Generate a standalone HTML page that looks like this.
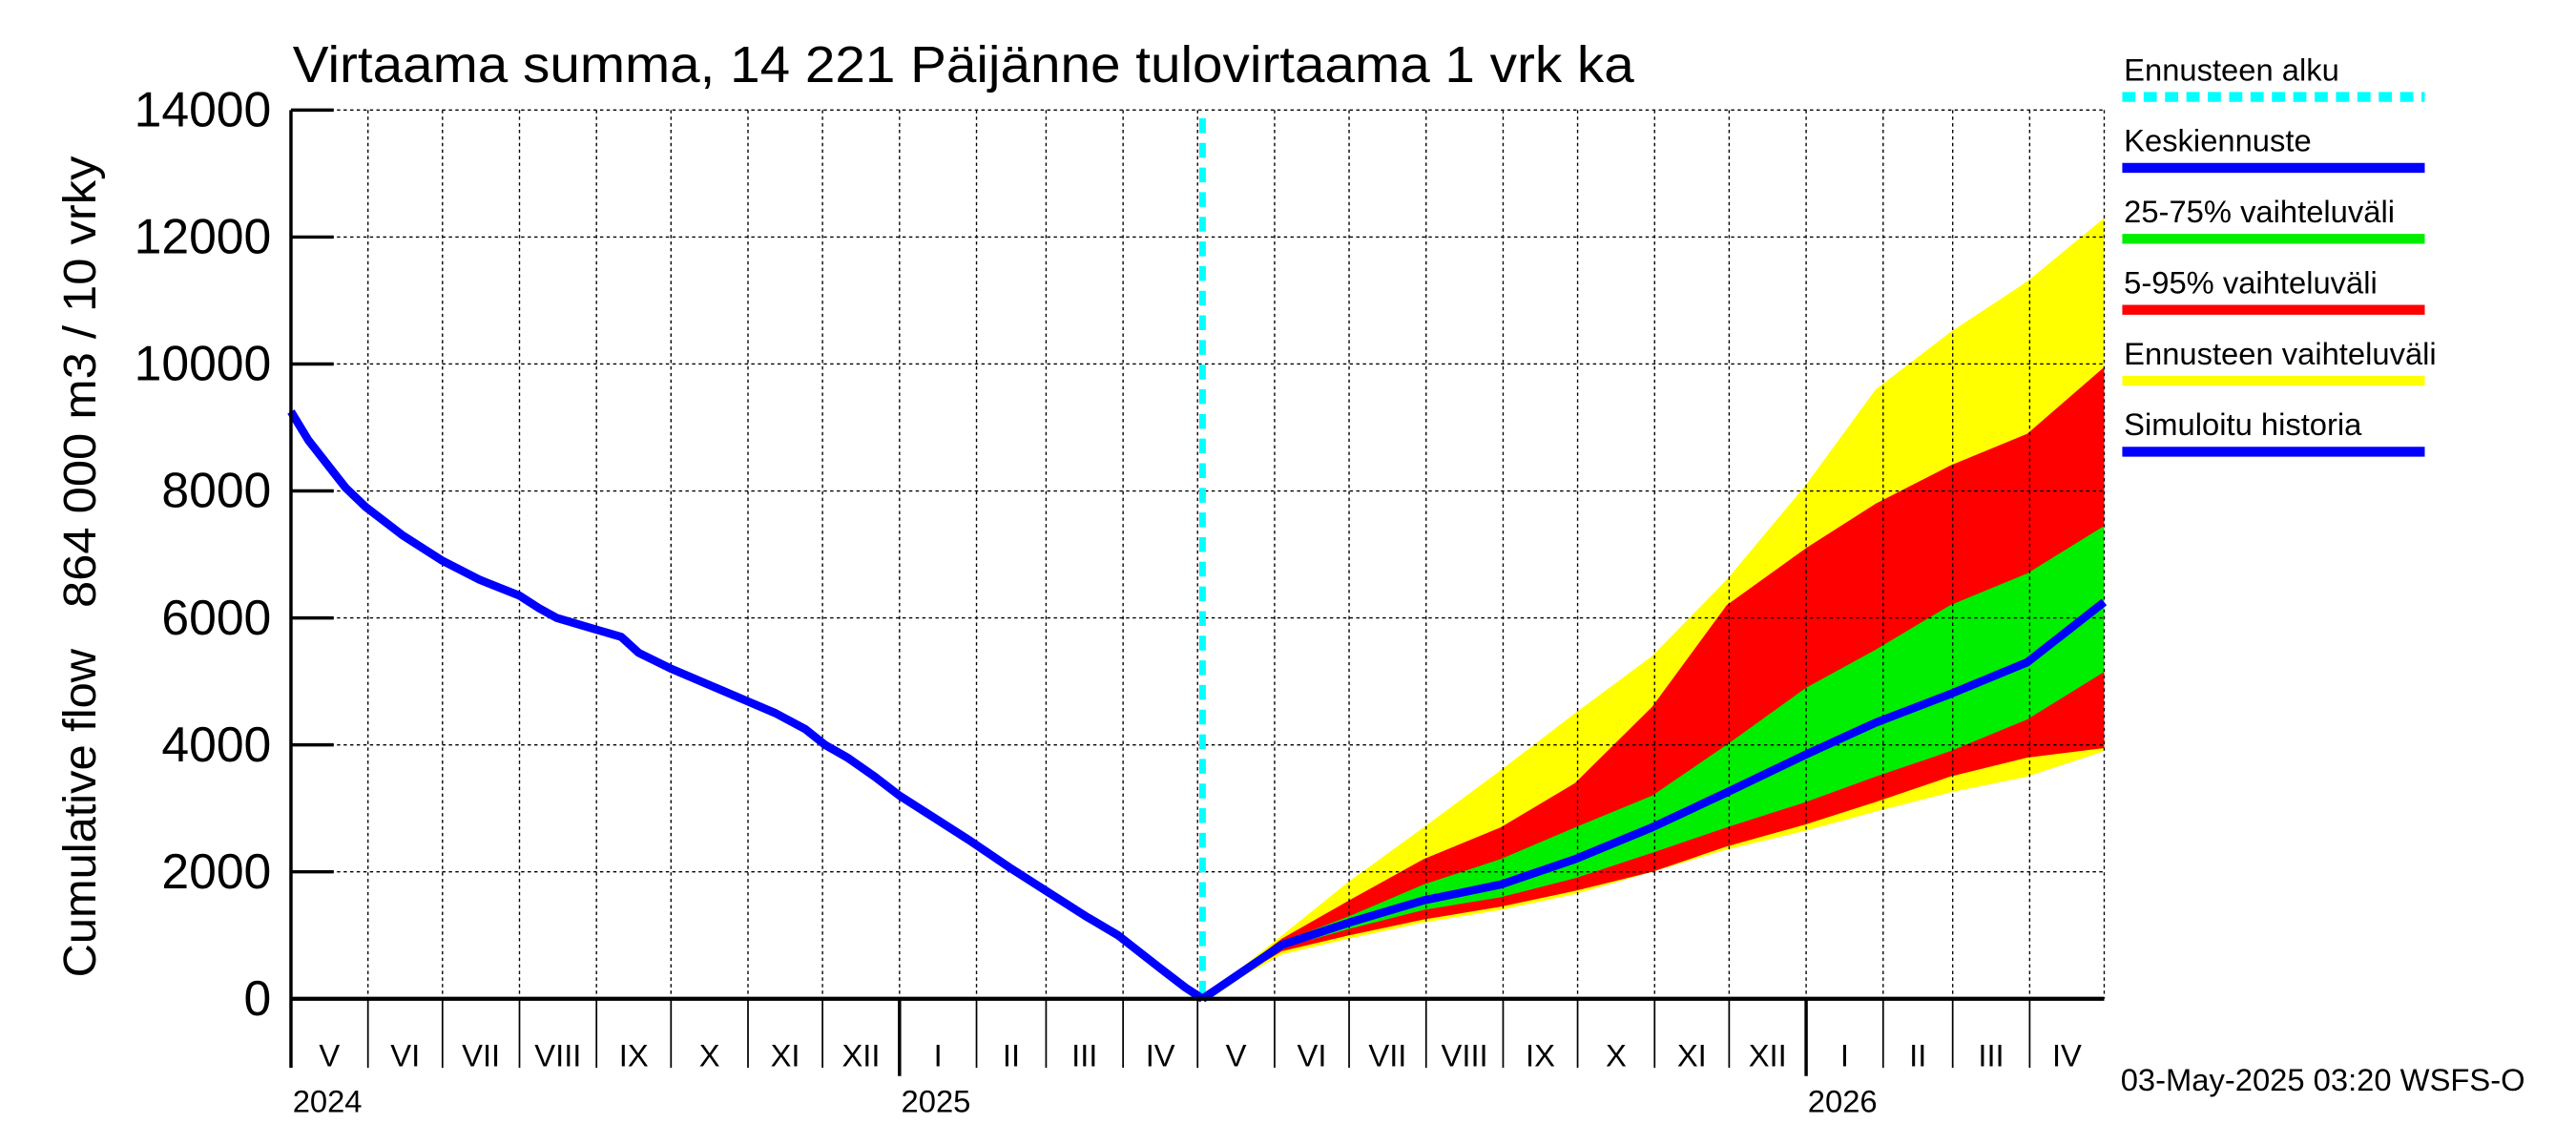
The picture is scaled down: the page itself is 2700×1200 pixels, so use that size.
<!DOCTYPE html>
<html><head><meta charset="utf-8"><style>
html,body{margin:0;padding:0;background:#fff}
svg{display:block}
text{font-family:"Liberation Sans",sans-serif;fill:#000}
</style></head><body>
<svg id="chart" width="2700" height="1200" viewBox="0 0 1567 697" preserveAspectRatio="none" xmlns="http://www.w3.org/2000/svg">
<rect width="1567" height="697" fill="#fff"/>
<g id="bands"></g>
<g id="grid"></g>
<g id="lines"></g>
<g id="axes"></g>
<text x="178" y="50" font-size="31" textLength="816" lengthAdjust="spacingAndGlyphs">Virtaama summa, 14 221 Päijänne tulovirtaama 1 vrk ka</text>
<text transform="translate(58,595) rotate(-90)" font-size="28" textLength="200" lengthAdjust="spacingAndGlyphs">Cumulative flow</text>
<text transform="translate(58,370) rotate(-90)" font-size="28" textLength="275" lengthAdjust="spacingAndGlyphs">864 000 m3 / 10 vrky</text>
<text x="1290" y="664" font-size="19">03-May-2025 03:20 WSFS-O</text>
<g id="legend"></g>
</svg>
<script>
const yTicks=[0,2000,4000,6000,8000,10000,12000,14000];
const histDays=[0,7,15,22,30,45,61,76,92,100,107,120,133,140,153,168,183,195,207,215,224,235,245,259,273,290,306,320,333,350,360,367];
const histVals=[9250,8800,8400,8050,7750,7300,6900,6600,6350,6150,6000,5850,5700,5450,5200,4950,4700,4500,4250,4000,3800,3500,3200,2850,2500,2050,1650,1300,1000,480,180,0];
const fcDays=[367,399,426,456,487,517,548,578,610,638,668,699,730];
const yellowTop=[0,1000,1850,2700,3600,4500,5400,6600,8100,9600,10500,11300,12300];
const redTop=[0,950,1550,2200,2700,3400,4600,6200,7100,7800,8400,8900,9950];
const greenTop=[0,900,1300,1800,2200,2700,3200,4000,4900,5500,6200,6700,7450];
const median=[0,850,1200,1550,1800,2200,2700,3250,3850,4350,4800,5300,6250];
const greenBot=[0,800,1100,1400,1600,1900,2300,2700,3100,3500,3900,4400,5150];
const redBot=[0,750,1000,1250,1450,1700,2000,2400,2750,3100,3500,3800,3950];
const yellowBot=[0,700,950,1200,1400,1650,2000,2350,2650,2950,3250,3500,3900];
const months=["V","VI","VII","VIII","IX","X","XI","XII","I","II","III","IV","V","VI","VII","VIII","IX","X","XI","XII","I","II","III","IV"];
const monthLens=[31,30,31,31,30,31,30,31,31,28,31,30,31,30,31,31,30,31,30,31,31,28,31,30];
const years=["2024","2025","2026"];
const yearDays=[0,245,610];
const forecastDay=367;

const NS="http://www.w3.org/2000/svg";
const X0=177,X1=1280,Y0=608,Y1=67;
const xs=d=>X0+(X1-X0)*d/730;
const ys=v=>Y0-(Y0-Y1)*v/14000;
function mk(tag,attrs,parent){const e=document.createElementNS(NS,tag);for(const k in attrs)e.setAttribute(k,attrs[k]);parent.appendChild(e);return e;}
const bands=document.getElementById('bands'),grid=document.getElementById('grid'),lines=document.getElementById('lines'),axes=document.getElementById('axes'),legend=document.getElementById('legend');
function band(top,bot,color,name){
  let p=fcDays.map((d,i)=>xs(d)+','+ys(top[i]));
  for(let i=fcDays.length-1;i>=0;i--)p.push(xs(fcDays[i])+','+ys(bot[i]));
  const e=mk('polygon',{points:p.join(' '),fill:color},bands);
  
  
}
band(yellowTop,yellowBot,'#ffff00','band-forecast-range');
band(redTop,redBot,'#ff0000','band-5-95');
band(greenTop,greenBot,'#00ee00','band-25-75');
let d=0;
const mStarts=[];
for(let i=0;i<months.length;i++){mStarts.push(d);d+=monthLens[i];}
mStarts.push(730);
for(let i=1;i<mStarts.length;i++){
  const g=mk('line',{x1:xs(mStarts[i]),x2:xs(mStarts[i]),y1:Y1,y2:Y0,stroke:'#000','stroke-width':0.8,'stroke-dasharray':'2,2'},grid);
  
  
}
yTicks.forEach(v=>{
  if(v>0){const g=mk('line',{x1:X0,x2:X1,y1:ys(v),y2:ys(v),stroke:'#000','stroke-width':0.8,'stroke-dasharray':'2,2'},grid);
  
  }
  const t=mk('line',{x1:X0,x2:X0+26,y1:ys(v),y2:ys(v),stroke:'#000','stroke-width':2},axes);
  
  
  const l=mk('text',{x:165,y:ys(v)+10,'text-anchor':'end','font-size':30},axes);
  l.textContent=v;
  
  
});
let a=mk('line',{x1:X0,x2:X0,y1:Y1,y2:650,stroke:'#000','stroke-width':2},axes);

a=mk('line',{x1:X0,x2:X1,y1:Y0,y2:Y0,stroke:'#000','stroke-width':2.5},axes);

for(let i=1;i<mStarts.length-1;i++){
  const isYear=yearDays.includes(mStarts[i]);
  const t=mk('line',{x1:xs(mStarts[i]),x2:xs(mStarts[i]),y1:Y0,y2:isYear?655:650,stroke:'#000','stroke-width':isYear?2:1},axes);
  
  
}
months.forEach((m,i)=>{
  const t=mk('text',{x:(xs(mStarts[i])+xs(mStarts[i+1]))/2,y:649,'text-anchor':'middle','font-size':19},axes);
  t.textContent=m;
  
  
});
years.forEach((y,i)=>{
  const t=mk('text',{x:xs(yearDays[i])+1,y:677,'font-size':19},axes);
  t.textContent=y;
  
  
});
let f=mk('line',{x1:xs(forecastDay),x2:xs(forecastDay),y1:72,y2:Y0,stroke:'#00ffff','stroke-width':4,'stroke-dasharray':'9,6'},lines);

let h=mk('polyline',{points:histDays.map((d,i)=>xs(d)+','+ys(histVals[i])).join(' '),fill:'none',stroke:'#0000ff','stroke-width':5,'stroke-linejoin':'round'},lines);

let m=mk('polyline',{points:fcDays.map((d,i)=>xs(d)+','+ys(median[i])).join(' '),fill:'none',stroke:'#0000ff','stroke-width':5,'stroke-linejoin':'round'},lines);

const leg=[["Ennusteen alku","#00ffff",true],["Keskiennuste","#0000ff"],["25-75% vaihteluväli","#00ee00"],["5-95% vaihteluväli","#ff0000"],["Ennusteen vaihteluväli","#ffff00"],["Simuloitu historia","#0000ff"]];
leg.forEach((L,i)=>{
  const yT=49+i*43.2;
  const t=mk('text',{x:1292,y:yT,'font-size':19},legend);
  t.textContent=L[0];
  
  
  const attrs={x1:1291,x2:1475,y1:yT+10,y2:yT+10,stroke:L[1],'stroke-width':6};
  if(L[2])attrs['stroke-dasharray']='8,5';
  const l=mk('line',attrs,legend);
  
  
});
</script>
</body></html>
